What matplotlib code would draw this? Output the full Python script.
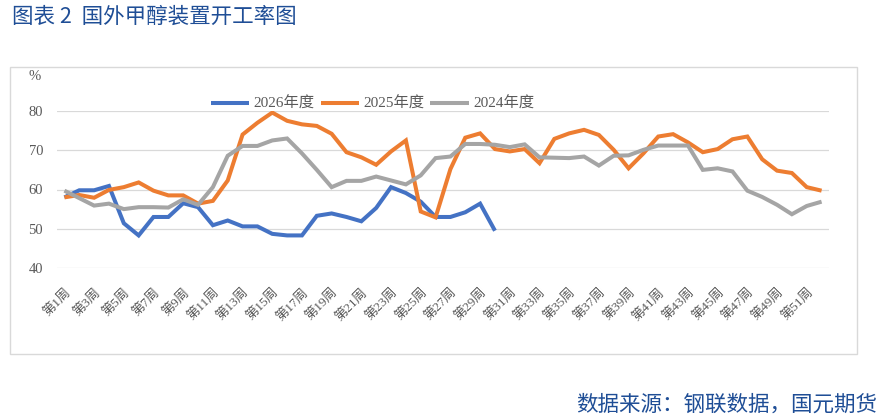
import matplotlib
matplotlib.use("Agg")
import matplotlib.pyplot as plt
from matplotlib.patches import Rectangle

weeks = [f"第{i}周" for i in range(1, 53)]
tick_labels = [w if i % 2 == 0 else "" for i, w in enumerate(weeks)]

y2026 = [58.0, 59.8, 59.8, 60.9, 51.4, 48.3, 53.0, 53.0, 56.5, 55.5,
         50.9, 52.1, 50.6, 50.6, 48.7, 48.3, 48.3, 53.3, 53.9, 53.0,
         51.9, 55.3, 60.6, 59.1, 56.9, 53.0, 53.0, 54.2, 56.4, 49.5]
y2025 = [58.0, 58.6, 57.9, 59.9, 60.6, 61.8, 59.7, 58.5, 58.5, 56.4,
         57.1, 62.3, 74.0, 77.0, 79.6, 77.5, 76.6, 76.2, 74.2, 69.5,
         68.2, 66.3, 69.7, 72.5, 54.4, 52.9, 65.2, 73.2, 74.3, 70.3,
         69.7, 70.3, 66.7, 72.9, 74.3, 75.2, 73.9, 70.1, 65.4, 69.2,
         73.5, 74.1, 72.0, 69.5, 70.3, 72.8, 73.5, 67.7, 64.8, 64.2,
         60.6, 59.7]
y2024 = [59.7, 57.8, 55.9, 56.4, 55.0, 55.5, 55.5, 55.4, 57.5, 56.1,
         60.6, 68.6, 71.1, 71.1, 72.5, 73.0, 69.2, 65.0, 60.6, 62.2,
         62.2, 63.3, 62.3, 61.3, 63.6, 68.0, 68.4, 71.6, 71.6, 71.4,
         70.8, 71.5, 68.2, 68.1, 68.0, 68.4, 66.1, 68.6, 68.7, 70.1,
         71.2, 71.2, 71.2, 65.0, 65.4, 64.6, 59.7, 58.1, 56.1, 53.7,
         55.8, 56.9]
series_names = ["2026年度", "2025年度", "2024年度"]
colors = ["#4472C4", "#ED7D31", "#A5A5A5"]
yticks = [40, 50, 60, 70, 80]

W, H = 891, 416
fig = plt.figure(figsize=(W / 100, H / 100), dpi=100)
fig.patch.set_facecolor("white")

serif = ["Liberation Serif", "Noto Sans CJK SC"]
cjk = ["Noto Sans CJK SC", "DejaVu Sans"]

ax = fig.add_axes([57 / W, 1 - 268 / H, (829 - 57) / W, (268 - 111) / H])
x = list(range(len(weeks)))
for k, (name, ys) in enumerate(zip(series_names, [y2026, y2025, y2024])):
    ax.plot(x[:len(ys)], ys, color=colors[k], lw=2.9, label=name,
            solid_joinstyle="miter", solid_capstyle="butt", zorder=3 + k)

ax.set_xlim(-0.5, len(weeks) - 0.5)
ax.set_ylim(40, 80)
ax.set_yticks(yticks)
ax.set_yticklabels([str(v) for v in yticks], family=serif, fontsize=10.5, color="#595959")
ax.grid(axis="y", color="#D9D9D9", lw=0.9, zorder=1)
for s in ax.spines.values():
    s.set_visible(False)
ax.tick_params(axis="both", length=0)
ax.tick_params(axis="y", pad=10)
ax.set_xticks(x)
ax.set_xticklabels(tick_labels, rotation=45, ha="right", va="top",
                   rotation_mode="anchor", family=serif, fontsize=9.5, color="#595959")
ax.tick_params(axis="x", pad=13)

fig.text(29 / W, 1 - 77 / H, "%", family=serif, fontsize=10.5, color="#595959",
         ha="left", va="center")

leg = fig.legend(loc="center left", bbox_to_anchor=(203 / W, 1 - 104 / H),
                 ncol=3, frameon=False, borderpad=0, handlelength=2.5,
                 handletextpad=0.3, columnspacing=0.4,
                 prop={"family": serif, "size": 11})
for t in leg.get_texts():
    t.set_color("#595959")

fig.patches.append(Rectangle((10 / W, 1 - 354 / H), (857 - 10) / W, (354 - 67) / H,
                             transform=fig.transFigure, fill=False,
                             edgecolor="#D9D9D9", lw=1.0))

fig.text(12 / W, 1 - 17 / H, "图表 2  国外甲醇装置开工率图", family=cjk, fontsize=15.5,
         color="#1F4E96", ha="left", va="center")
fig.text(877 / W, 1 - 405 / H, "数据来源：钢联数据，国元期货", family=cjk, fontsize=15.5,
         color="#1F4E96", ha="right", va="center")

fig.savefig("out.png", dpi=100)
